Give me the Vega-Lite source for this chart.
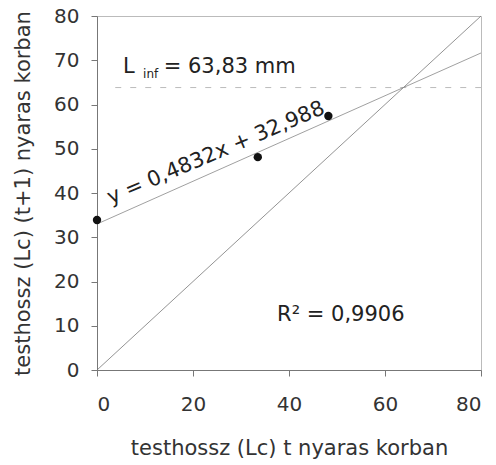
{
  "$schema": "https://vega.github.io/schema/vega-lite/v6.json",
  "width": 384,
  "height": 354,
  "autosize": {"type": "none"},
  "padding": {"left": 97, "top": 16, "right": 15, "bottom": 95},
  "background": "white",
  "config": {
    "font": "DejaVu Sans",
    "view": {"stroke": "#bbbbbb", "strokeWidth": 1},
    "axis": {
      "grid": false,
      "domainColor": "#777777",
      "tickColor": "#777777",
      "labelColor": "#333333",
      "titleColor": "#333333",
      "labelFont": "DejaVu Sans",
      "titleFont": "DejaVu Sans",
      "labelFontSize": 20,
      "titleFontSize": 21,
      "titleFontWeight": 400,
      "tickSize": 6
    }
  },
  "datasets": {
    "pts": [
      {"t": 0, "t1": 33.9},
      {"t": 33.5, "t1": 48.1},
      {"t": 48.2, "t1": 57.4}
    ],
    "reg": [
      {"t": 0, "t1": 32.988},
      {"t": 80, "t1": 71.644}
    ],
    "diag": [
      {"t": 0, "t1": 0},
      {"t": 80, "t1": 80}
    ],
    "linf": [
      {"t": 3.8, "t1": 63.83},
      {"t": 80, "t1": 63.83}
    ]
  },
  "layer": [
    {
      "data": {"name": "linf"},
      "mark": {"type": "line", "color": "#bbbbbb", "strokeWidth": 1, "strokeDash": [6, 9]},
      "encoding": {
        "x": {"field": "t", "type": "quantitative", "scale": {"domain": [0, 80], "nice": false},
          "axis": {"values": [0, 20, 40, 60, 80], "title": "testhossz (Lc) t nyaras korban", "labelPadding": 18, "titlePadding": 23}},
        "y": {"field": "t1", "type": "quantitative", "scale": {"domain": [0, 80], "nice": false},
          "axis": {"values": [0, 10, 20, 30, 40, 50, 60, 70, 80], "title": "testhossz (Lc) (t+1) nyaras korban", "labelPadding": 12, "titlePadding": 20}}
      }
    },
    {
      "data": {"name": "diag"},
      "mark": {"type": "line", "color": "#777777", "strokeWidth": 0.8},
      "encoding": {
        "x": {"field": "t", "type": "quantitative"},
        "y": {"field": "t1", "type": "quantitative"}
      }
    },
    {
      "data": {"name": "reg"},
      "mark": {"type": "line", "color": "#888888", "strokeWidth": 0.8},
      "encoding": {
        "x": {"field": "t", "type": "quantitative"},
        "y": {"field": "t1", "type": "quantitative"}
      }
    },
    {
      "data": {"name": "pts"},
      "mark": {"type": "point", "filled": true, "color": "#111111", "size": 70, "opacity": 1},
      "encoding": {
        "x": {"field": "t", "type": "quantitative"},
        "y": {"field": "t1", "type": "quantitative"}
      }
    },
    {
      "data": {"values": [
        {"t": 5.4, "t1": 67.1, "label": "L"},
        {"t": 13.9, "t1": 67.1, "label": "=  63,83 mm"}
      ]},
      "mark": {"type": "text", "align": "left", "baseline": "alphabetic", "fontSize": 21, "color": "#222222"},
      "encoding": {
        "x": {"field": "t", "type": "quantitative"},
        "y": {"field": "t1", "type": "quantitative"},
        "text": {"field": "label"}
      }
    },
    {
      "data": {"values": [{"t": 9.6, "t1": 66.0, "label": "inf"}]},
      "mark": {"type": "text", "align": "left", "baseline": "alphabetic", "fontSize": 12, "color": "#222222"},
      "encoding": {
        "x": {"field": "t", "type": "quantitative"},
        "y": {"field": "t1", "type": "quantitative"},
        "text": {"field": "label"}
      }
    },
    {
      "data": {"values": [{"t": 24.8, "t1": 49.0, "label": "y = 0,4832x + 32,988"}]},
      "mark": {"type": "text", "align": "center", "baseline": "middle", "fontSize": 21, "angle": 337, "color": "#222222"},
      "encoding": {
        "x": {"field": "t", "type": "quantitative"},
        "y": {"field": "t1", "type": "quantitative"},
        "text": {"field": "label"}
      }
    },
    {
      "data": {"values": [{"t": 50.8, "t1": 12.4, "label": "R² = 0,9906"}]},
      "mark": {"type": "text", "align": "center", "baseline": "middle", "fontSize": 21, "color": "#222222"},
      "encoding": {
        "x": {"field": "t", "type": "quantitative"},
        "y": {"field": "t1", "type": "quantitative"},
        "text": {"field": "label"}
      }
    }
  ]
}
